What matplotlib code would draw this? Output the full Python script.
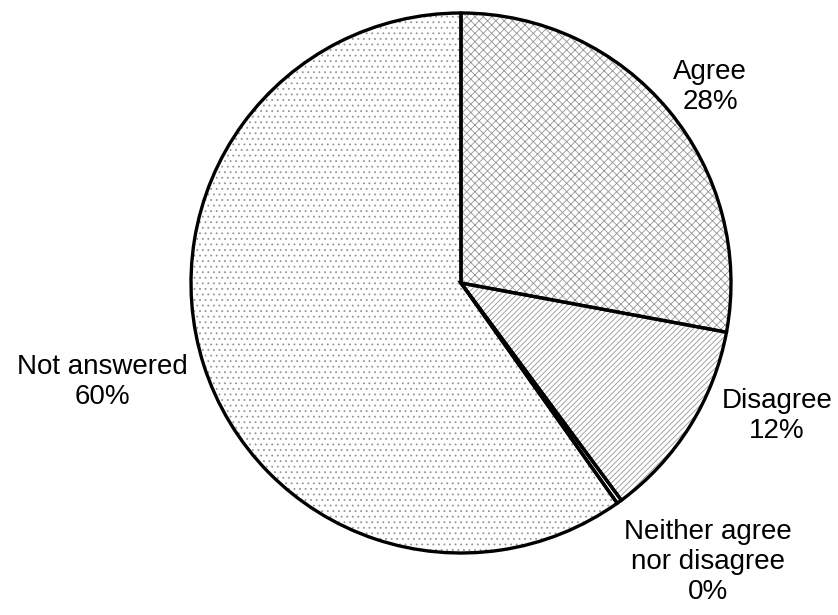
import matplotlib.pyplot as plt

plt.rcParams['font.family'] = ['Liberation Sans', 'DejaVu Sans']
plt.rcParams['hatch.linewidth'] = 0.6

labels = ['Agree', 'Disagree', 'Neither agree\nnor disagree', 'Not answered']
values = [28, 12, 0.3, 60]
hatches = ['xxxx', '//////', '', '...']
label_pos = [(710, 87), (777, 416), (708, 562), (102, 382)]

fig = plt.figure(figsize=(8.38, 6.15), dpi=100)
ax = fig.add_axes([0, 0, 1, 1])

# textured fills first, outlines on top
fills, _ = ax.pie(values, startangle=90, counterclock=False, colors=['white'] * 4,
                  wedgeprops=dict(edgecolor='#959595', linewidth=0))
for w, h in zip(fills, hatches):
    w.set_hatch(h)
ax.pie(values, startangle=90, counterclock=False,
       wedgeprops=dict(fill=False, edgecolor='black', linewidth=2.4))

# pie() resets the limits, so place the circle afterwards (pixel units / radius)
cx, cy, r = 461, 283, 270
ax.set_xlim(-cx / r, (838 - cx) / r)
ax.set_ylim(-(615 - cy) / r, cy / r)
ax.set_aspect('equal')
ax.axis('off')

total = sum(values)
for lab, v, (px, py) in zip(labels, values, label_pos):
    ax.text((px - cx) / r, (cy - py) / r, f"{lab}\n{v / total * 100:.0f}%",
            ha='center', va='center', fontsize=20, linespacing=1.22)

fig.savefig('out.png', dpi=100)
